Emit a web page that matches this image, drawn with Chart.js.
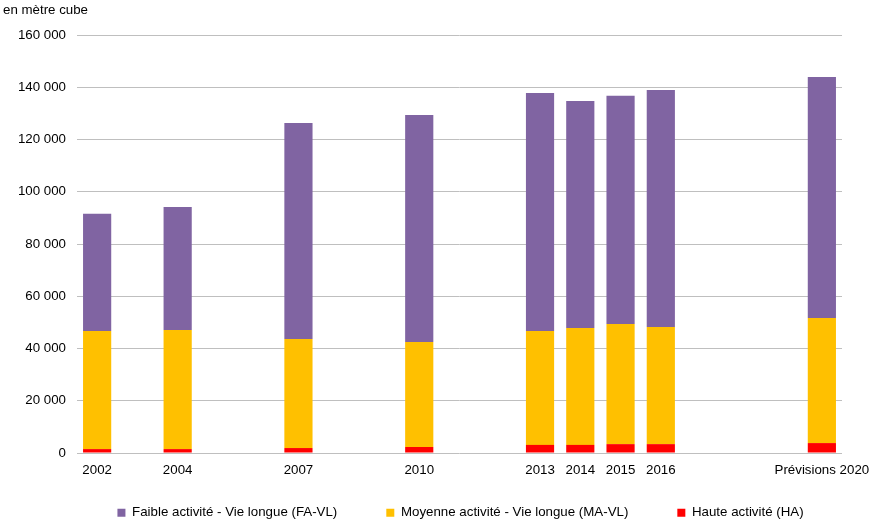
<!DOCTYPE html>
<html lang="fr">
<head>
<meta charset="utf-8">
<title>Volumes de déchets radioactifs</title>
<script src="https://cdn.jsdelivr.net/npm/chart.js"></script>
<style>
  html, body { margin: 0; padding: 0; background: #fff; }
  #wrap { width: 872px; height: 520px; position: relative; }
</style>
</head>
<body>
<div id="wrap"><canvas id="chart"></canvas></div>
<script>
// == Data ==
const years = [2002, 2004, 2007, 2010, 2013, 2014, 2015, 2016, 2020];
const yearLabels = ["2002", "2004", "2007", "2010", "2013", "2014", "2015", "2016", "Prévisions 2020"];
const haValues = [1500, 1500, 1900, 2300, 3100, 3100, 3400, 3400, 3800];
const maValues = [45200, 45600, 41700, 40200, 43600, 44700, 46000, 44800, 47900];
const faValues = [44900, 47100, 82700, 86900, 91100, 86900, 87300, 90700, 92200];
const unitLabel = "en mètre cube";

// == Build a year-by-year category axis (empty slots for missing years) ==
const firstYear = years[0];
const lastYear = years[years.length - 1];
const categories = [];
for (let y = firstYear; y <= lastYear; y++) {
  const i = years.indexOf(y);
  categories.push(i >= 0 ? yearLabels[i] : "");
}

function spread(values) {
  return categories.map((label, k) => {
    const i = years.indexOf(firstYear + k);
    return i >= 0 ? values[i] : null;
  });
}

const font = { family: "'Liberation Sans', Arial, sans-serif", size: 13.3 };

// == Unit label in the top-left corner ==
const unitPlugin = {
  id: "unitLabel",
  afterDraw(chart) {
    const ctx = chart.ctx;
    ctx.save();
    ctx.font = `${font.size}px ${font.family}`;
    ctx.fillStyle = "#000";
    ctx.textAlign = "left";
    ctx.textBaseline = "middle";
    ctx.fillText(unitLabel, 3, 10);
    ctx.restore();
  }
};

// == Legend: keep its box short, then centre it under the plot ==
const legendPlugin = {
  id: "legendPlace",
  beforeLayout(chart) {
    const lg = chart.legend;
    if (lg && !lg._shortFit) {
      const fit = lg.fit.bind(lg);
      lg.fit = function () { fit(); this.height = 42; };
      lg._shortFit = true;
    }
  },
  afterLayout(chart) {
    const lg = chart.legend;
    const area = chart.chartArea;
    const mid = (area.left + area.right) / 2 + 1;
    const half = chart.width / 2;
    lg.left = mid - half;
    lg.right = mid + half;
    lg.top = area.bottom + 4;
    lg.bottom = chart.height;
  }
};

const ctx = document.getElementById("chart").getContext("2d");
new Chart(ctx, {
  type: "bar",
  data: {
    labels: categories,
    datasets: [
      { label: "Haute activité (HA)", data: spread(haValues), backgroundColor: "#FF0000" },
      { label: "Moyenne activité - Vie longue (MA-VL)", data: spread(maValues), backgroundColor: "#FFC000" },
      { label: "Faible activité - Vie longue (FA-VL)", data: spread(faValues), backgroundColor: "#8064A2" }
    ]
  },
  options: {
    responsive: true,
    maintainAspectRatio: false,
    animation: false,
    devicePixelRatio: 1,
    datasets: { bar: { barPercentage: 0.7, categoryPercentage: 1 } },
    layout: { padding: { top: 35, right: 30, left: 0, bottom: 0 } },
    scales: {
      x: {
        stacked: true,
        grid: { display: false, drawTicks: false },
        border: { display: false },
        ticks: { color: "#000", font, autoSkip: false, maxRotation: 0, padding: 9 },
        afterFit(scale) {
          scale.height = 25;
          scale.paddingLeft = 0;
          scale.paddingRight = 0;
        }
      },
      y: {
        stacked: true,
        min: 0,
        max: 160000,
        border: { display: false },
        grid: { color: "#BFBFBF", lineWidth: 1, drawTicks: false },
        ticks: {
          stepSize: 20000,
          color: "#000",
          font,
          padding: 11,
          callback: v => String(v).replace(/\B(?=(\d{3})+(?!\d))/g, " ")
        },
        afterFit(scale) { scale.width = 77; }
      }
    },
    plugins: {
      legend: {
        position: "bottom",
        reverse: true,
        labels: { color: "#000", font, boxWidth: 8, boxHeight: 8, padding: 49 }
      },
      tooltip: { enabled: false }
    }
  },
  plugins: [unitPlugin, legendPlugin]
});
</script>
</body>
</html>
